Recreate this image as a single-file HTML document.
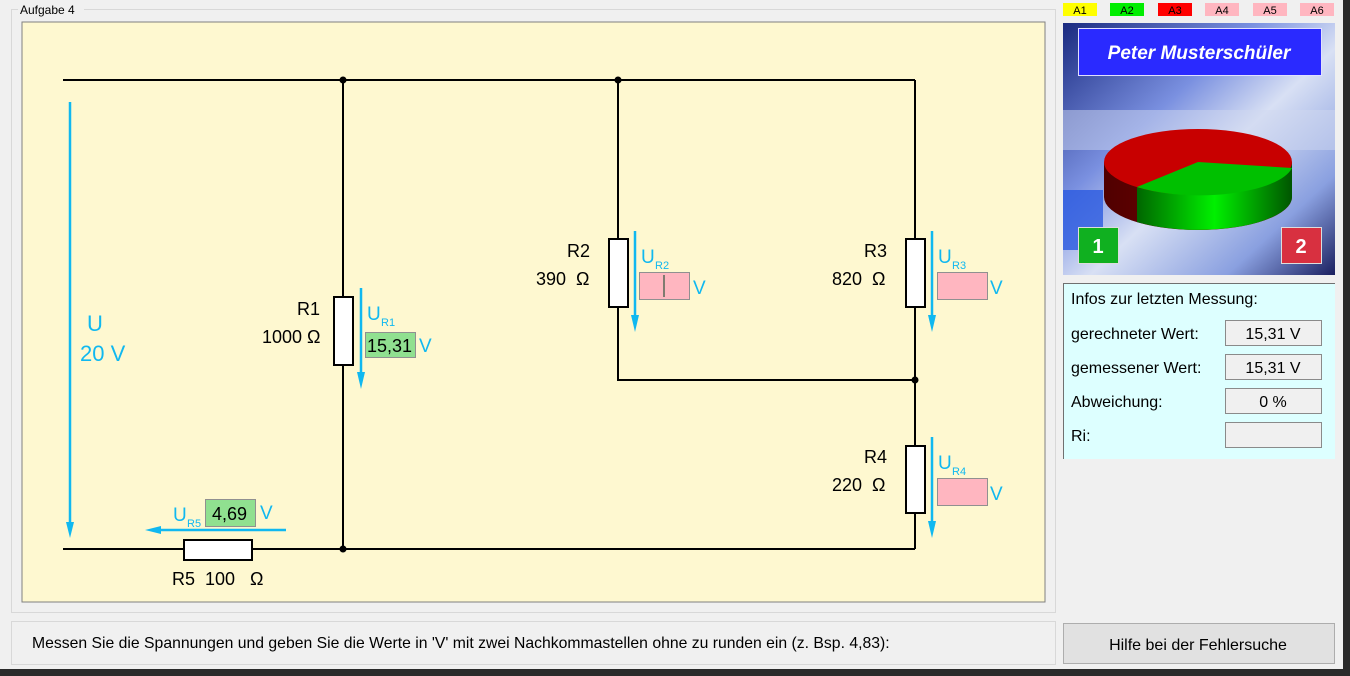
<!DOCTYPE html>
<html><head><meta charset="utf-8"><style>
html,body{margin:0;padding:0;width:1350px;height:676px;overflow:hidden;background:#f0f0f0;}
svg{display:block}
text{font-family:"Liberation Sans",Arial,sans-serif}
</style></head><body>
<svg width="1350" height="676" viewBox="0 0 1350 676" xmlns="http://www.w3.org/2000/svg">
<defs>
<linearGradient id="bg" x1="0" y1="0" x2="1" y2="1">
<stop offset="0" stop-color="#1a2a80"/><stop offset="0.35" stop-color="#7a90e0"/><stop offset="0.55" stop-color="#d8e0f4"/><stop offset="0.8" stop-color="#8aa0e0"/><stop offset="1" stop-color="#1a2060"/></linearGradient>
<linearGradient id="gside" x1="0" y1="0" x2="1" y2="0">
<stop offset="0" stop-color="#006600"/><stop offset="0.5" stop-color="#00f000"/><stop offset="1" stop-color="#005500"/></linearGradient>
<linearGradient id="rside" x1="0" y1="0" x2="1" y2="0">
<stop offset="0" stop-color="#500000"/><stop offset="1" stop-color="#900000"/></linearGradient>
</defs>
<rect x="1343" y="0" width="7" height="676" fill="#2a2a2a"/>
<rect x="0" y="669" width="1350" height="7" fill="#2a2a2a"/>
<rect x="11.5" y="9.5" width="1044" height="603" fill="none" stroke="#d8d8d8"/>
<rect x="18" y="2" width="66" height="14" fill="#f0f0f0"/>
<text x="20" y="14" font-size="12" fill="#000">Aufgabe 4</text>
<rect x="22" y="22" width="1023" height="580" fill="#fef8d0" stroke="#808080"/>
<g stroke="#000" stroke-width="2" fill="none">
<line x1="63" y1="80" x2="915" y2="80"/>
<line x1="63" y1="549" x2="915" y2="549"/>
<line x1="343" y1="80" x2="343" y2="549"/>
<polyline points="618,80 618,380 915,380"/>
<line x1="915" y1="80" x2="915" y2="549"/>
</g>
<g fill="#000"><circle cx="343" cy="80" r="3.5"/><circle cx="618" cy="80" r="3.5"/><circle cx="343" cy="549" r="3.5"/><circle cx="915" cy="380" r="3.5"/></g>
<g fill="#fff" stroke="#000" stroke-width="2">
<rect x="334" y="297" width="19" height="68"/>
<rect x="609" y="239" width="19" height="68"/>
<rect x="906" y="239" width="19" height="68"/>
<rect x="906" y="446" width="19" height="67"/>
<rect x="184" y="540" width="68" height="20"/>
</g>
<g stroke="#10b8f0" stroke-width="2.5" fill="#10b8f0">
<line x1="70" y1="102" x2="70" y2="525"/><polygon points="66,522 74,522 70,538" stroke="none"/>
<line x1="361" y1="288" x2="361" y2="376"/><polygon points="357,372 365,372 361,389" stroke="none"/>
<line x1="635" y1="231" x2="635" y2="319"/><polygon points="631,315 639,315 635,332" stroke="none"/>
<line x1="932" y1="231" x2="932" y2="319"/><polygon points="928,315 936,315 932,332" stroke="none"/>
<line x1="932" y1="437" x2="932" y2="525"/><polygon points="928,521 936,521 932,538" stroke="none"/>
<line x1="286" y1="530" x2="158" y2="530"/><polygon points="161,526 161,534 145,530" stroke="none"/>
</g>
<g font-size="18" fill="#000">
<text x="297" y="315">R1</text><text x="262" y="343">1000 Ω</text>
<text x="567" y="257">R2</text><text x="536" y="285">390&#160;&#160;Ω</text>
<text x="864" y="257">R3</text><text x="832" y="285">820&#160;&#160;Ω</text>
<text x="864" y="463">R4</text><text x="832" y="491">220&#160;&#160;Ω</text>
<text x="172" y="585">R5&#160;&#160;100&#160;&#160;&#160;Ω</text>
</g>
<g fill="#10b8f0">
<text x="87" y="331" font-size="22">U</text><text x="80" y="361" font-size="22">20 V</text>
<text x="367" y="320" font-size="19">U</text><text x="381" y="326" font-size="11">R1</text>
<text x="641" y="263" font-size="19">U</text><text x="655" y="269" font-size="11">R2</text>
<text x="938" y="263" font-size="19">U</text><text x="952" y="269" font-size="11">R3</text>
<text x="938" y="469" font-size="19">U</text><text x="952" y="475" font-size="11">R4</text>
<text x="173" y="521" font-size="19">U</text><text x="187" y="527" font-size="11">R5</text>
<text x="419" y="352" font-size="19">V</text>
<text x="693" y="294" font-size="19">V</text>
<text x="990" y="294" font-size="19">V</text>
<text x="990" y="500" font-size="19">V</text>
<text x="260" y="519" font-size="19">V</text>
</g>
<g stroke="#909090" stroke-width="1">
<rect x="365.5" y="332.5" width="50" height="25" fill="#90e090"/>
<rect x="205.5" y="499.5" width="50" height="27" fill="#90e090"/>
<rect x="639.5" y="272.5" width="50" height="27" fill="#ffb6c0"/>
<rect x="937.5" y="272.5" width="50" height="27" fill="#ffb6c0"/>
<rect x="937.5" y="478.5" width="50" height="27" fill="#ffb6c0"/>
</g>
<line x1="664" y1="275" x2="664" y2="297" stroke="#004020"/>
<g font-size="18" fill="#000"><text x="367" y="352">15,31</text><text x="212" y="520">4,69</text></g>
<g font-size="11" fill="#000" text-anchor="middle">
<rect x="1063" y="3" width="34" height="13" fill="#ffff00"/><text x="1080" y="14">A1</text>
<rect x="1110" y="3" width="34" height="13" fill="#00ee00"/><text x="1127" y="14">A2</text>
<rect x="1158" y="3" width="34" height="13" fill="#ff0000"/><text x="1175" y="14">A3</text>
<rect x="1205" y="3" width="34" height="13" fill="#ffb6c0"/><text x="1222" y="14">A4</text>
<rect x="1253" y="3" width="34" height="13" fill="#ffb6c0"/><text x="1270" y="14">A5</text>
<rect x="1300" y="3" width="34" height="13" fill="#ffb6c0"/><text x="1317" y="14">A6</text>
</g>
<rect x="1063" y="23" width="272" height="252" fill="url(#bg)"/>
<rect x="1063" y="110" width="272" height="40" fill="#d0d8f0" opacity="0.5"/>
<rect x="1063" y="190" width="40" height="60" fill="#2a5ae0" opacity="0.8"/>
<rect x="1078.5" y="28.5" width="243" height="47" fill="#2a2aff" stroke="#e0e0ff"/>
<text x="1199" y="59" font-size="19" font-weight="bold" font-style="italic" fill="#fff" text-anchor="middle">Peter Musterschüler</text>
<path d="M1104,162 L1104,197 A94,33 0 0 0 1292,197 L1292,162 Z" fill="url(#rside)"/>
<path d="M1137,187 L1137,222 A94,33 0 0 0 1292,197 L1292,162 A94,33 0 0 1 1137,187 Z" fill="url(#gside)"/>
<ellipse cx="1198" cy="162" rx="94" ry="33" fill="#c80000"/>
<path d="M1198,162 L1292,168 A94,33 0 0 1 1137,187 Z" fill="#00c000"/>
<rect x="1078.5" y="227.5" width="40" height="36" fill="#10b020" stroke="#ddd"/>
<text x="1098" y="253" font-size="20" font-weight="bold" fill="#fff" text-anchor="middle">1</text>
<rect x="1281.5" y="227.5" width="40" height="36" fill="#d83040" stroke="#ddd"/>
<text x="1301" y="253" font-size="20" font-weight="bold" fill="#fff" text-anchor="middle">2</text>
<rect x="1063" y="283" width="272" height="176" fill="#ddffff"/>
<path d="M1063.5,459 V283.5 H1335" fill="none" stroke="#707070"/>
<g font-size="16" fill="#000">
<text x="1071" y="304">Infos zur letzten Messung:</text>
<text x="1071" y="339">gerechneter Wert:</text>
<text x="1071" y="373">gemessener Wert:</text>
<text x="1071" y="407">Abweichung:</text>
<text x="1071" y="441">Ri:</text>
</g>
<g fill="#f0f0f0" stroke="#8a8a8a">
<rect x="1225.5" y="320.5" width="96" height="25"/>
<rect x="1225.5" y="354.5" width="96" height="25"/>
<rect x="1225.5" y="388.5" width="96" height="25"/>
<rect x="1225.5" y="422.5" width="96" height="25"/>
</g>
<g font-size="16" fill="#000" text-anchor="middle">
<text x="1273" y="339">15,31 V</text><text x="1273" y="373">15,31 V</text><text x="1273" y="407">0 %</text>
</g>
<rect x="11.5" y="621.5" width="1044" height="43" fill="#f0f0f0" stroke="#d8d8d8"/>
<text x="32" y="648" font-size="15.75" fill="#000">Messen Sie die Spannungen und geben Sie die Werte in 'V' mit zwei Nachkommastellen ohne zu runden ein (z. Bsp. 4,83):</text>
<rect x="1063.5" y="623.5" width="271" height="40" fill="#e1e1e1" stroke="#adadad"/>
<text x="1198" y="650" font-size="16" fill="#000" text-anchor="middle">Hilfe bei der Fehlersuche</text>
</svg>
</body></html>
